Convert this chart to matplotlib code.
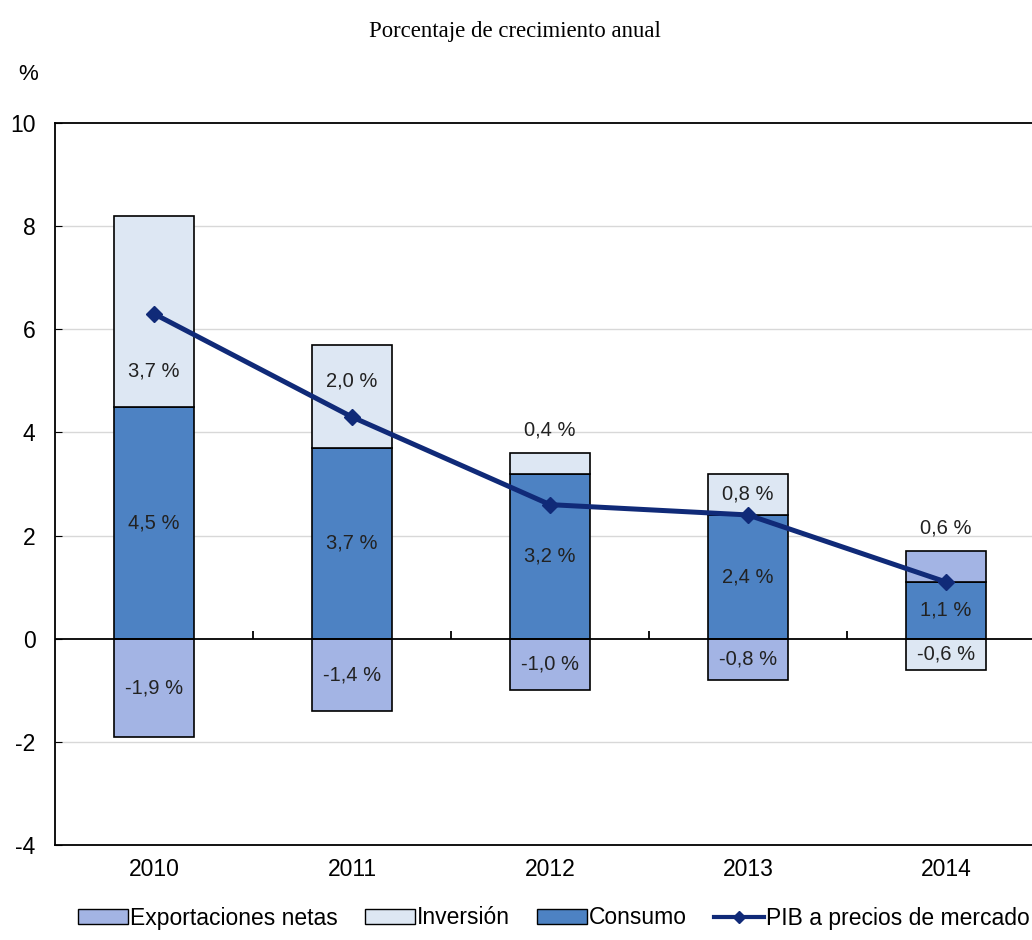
import numpy as np
import matplotlib
matplotlib.use('Agg')
import matplotlib.pyplot as plt
from matplotlib.transforms import blended_transform_factory

plt.rcParams['font.family'] = ['Liberation Sans', 'DejaVu Sans']
plt.rcParams['axes.unicode_minus'] = False

years = ['2010', '2011', '2012', '2013', '2014']
consumo = [4.5, 3.7, 3.2, 2.4, 1.1]
inversion = [3.7, 2.0, 0.4, 0.8, -0.6]
exportaciones = [-1.9, -1.4, -1.0, -0.8, 0.6]
pib = [6.3, 4.3, 2.6, 2.4, 1.1]

c_exp = '#a3b4e4'
c_inv = '#dde7f3'
c_con = '#4d82c3'
c_pib = '#102a78'

fig = plt.figure(figsize=(10.32, 9.4), dpi=100)
ax = fig.add_axes([55/1032, 95/940, 990/1032, 722/940])

x = np.arange(len(years))
w = 0.4
pos_base = np.zeros(len(years))
neg_base = np.zeros(len(years))
segs = {}
for name, vals, col in [('Consumo', consumo, c_con),
                        ('Inversión', inversion, c_inv),
                        ('Exportaciones netas', exportaciones, c_exp)]:
    vals = np.array(vals)
    bottoms = np.where(vals >= 0, pos_base, neg_base)
    ax.bar(x, vals, w, bottom=bottoms, color=col, edgecolor='black',
           linewidth=1.2, zorder=3)
    segs[name] = (vals, bottoms)
    pos_base = pos_base + np.clip(vals, 0, None)
    neg_base = neg_base + np.clip(vals, None, 0)

ax.plot(x, pib, color=c_pib, lw=3.6, marker='D', ms=8, zorder=5)

def fmt(v):
    return f'{v:.1f} %'.replace('.', ',')

# label placement: middle of segment, with a few moved off the line
shift = {('Inversión', 0): -1.15, ('Inversión', 1): 0.3}
above = {('Inversión', 2), ('Exportaciones netas', 4)}
for name, (vals, bottoms) in segs.items():
    for i, v in enumerate(vals):
        if (name, i) in above:
            ypos = bottoms[i] + v + 0.45
        else:
            ypos = bottoms[i] + v / 2 + shift.get((name, i), 0)
        ax.text(x[i], ypos, fmt(v), ha='center', va='center',
                fontsize=14.5, color='#222222', zorder=6)

ax.set_xlim(-0.5, 4.5)
ax.set_ylim(-4, 10)
ax.set_yticks(np.arange(-4, 11, 2))
ax.set_xticks(x)
ax.set_xticklabels(years)
ax.tick_params(axis='x', length=0, labelsize=16.5, pad=9)
ax.tick_params(axis='y', direction='in', length=5, labelsize=16.5, pad=14)
for g in [-2, 2, 4, 6, 8]:
    ax.axhline(g, color='#d8d8d8', lw=1, zorder=1)
ax.axhline(0, color='black', lw=1.3, zorder=4)
tr = blended_transform_factory(ax.transData, ax.transAxes)
zero = 4 / 14
ax.vlines(x[:-1] + 0.5, zero, zero + 0.011, color='black', lw=1.3,
          transform=tr, zorder=4)
for s in ax.spines.values():
    s.set_linewidth(1.3)

fig.text(18/1032, 1 - 75/940, '%', fontsize=16, ha='left', va='center')
fig.text(515/1032, 1 - 31/940, 'Porcentaje de crecimiento anual',
         family='Liberation Serif', fontsize=16.4, ha='center', va='center')

handles = [plt.Rectangle((0, 0), 1, 1, fc=c_exp, ec='black', lw=1),
           plt.Rectangle((0, 0), 1, 1, fc=c_inv, ec='black', lw=1),
           plt.Rectangle((0, 0), 1, 1, fc=c_con, ec='black', lw=1),
           plt.Line2D([], [], color=c_pib, lw=3, marker='D', ms=6)]
labels = ['Exportaciones netas', 'Inversión', 'Consumo', 'PIB a precios de mercado']
fig.legend(handles, labels, loc='center left', bbox_to_anchor=(78/1032, 1 - 918/940),
           ncol=4, frameon=False, fontsize=16.5, handlelength=2.2, handleheight=0.6,
           handletextpad=0.05, columnspacing=1.2, borderaxespad=0, borderpad=0)

plt.savefig('out.png', dpi=100)
